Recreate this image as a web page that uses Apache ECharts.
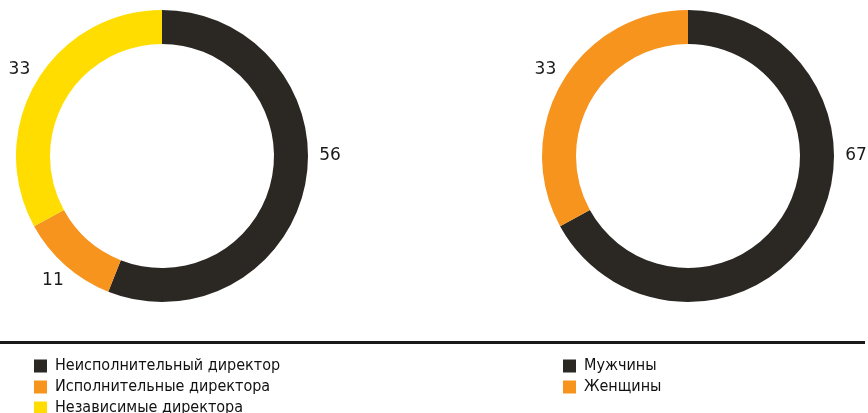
<!DOCTYPE html>
<html>
<head>
<meta charset="utf-8">
<script src="https://cdn.jsdelivr.net/npm/echarts@6/dist/echarts.min.js"></script>
<style>
  html, body { margin: 0; padding: 0; background: #fff; }
  #chart { width: 868px; height: 413px; }
</style>
</head>
<body>
<div id="chart"></div>
<script>
  // состав совета директоров
  const boardNames = ['Неисполнительный директор', 'Исполнительные директора', 'Независимые директора']
  const boardValues = [56, 11, 33]
  // гендерный состав
  const genderNames = ['Мужчины', 'Женщины']
  const genderValues = [67, 33]

  const dark = '#2b2723'
  const orange = '#f7941e'
  const yellow = '#ffdd00'

  const chart = echarts.init(document.getElementById('chart'))

  // метки по центру на конце (невидимой) выноски; самый большой сектор — справа по центру
  const labelLayout = (params) => {
    if (params.dataIndex === 0) {
      return {
        x: params.rect.x + params.rect.width + 22,
        y: params.rect.y + params.rect.height / 2,
        align: 'center',
        verticalAlign: 'middle'
      }
    }
    const pts = params.labelLinePoints
    if (!pts) return {}
    return { x: pts[1][0] + 2, y: pts[1][1] - 1, align: 'center', verticalAlign: 'middle' }
  }

  const pieBase = {
    type: 'pie',
    radius: [112, 146],
    startAngle: 90,
    clockwise: true,
    avoidLabelOverlap: false,
    silent: true,
    label: {
      show: true,
      position: 'outside',
      formatter: '{c}',
      color: '#1a1a1a',
      fontSize: 17,
      fontFamily: 'DejaVu Sans'
    },
    labelLine: { show: true, length: 22, length2: 0, lineStyle: { opacity: 0, width: 0 } },
    labelLayout: labelLayout,
    emphasis: { disabled: true }
  }

  const legendBase = {
    orient: 'vertical',
    top: 358,
    height: 120,
    padding: 0,
    itemWidth: 13,
    itemHeight: 13,
    itemGap: 5,
    icon: 'rect',
    selectedMode: false,
    textStyle: { fontSize: 16, lineHeight: 13, color: '#111', fontFamily: 'DejaVu Sans Condensed', padding: [0, 0, 0, 3] }
  }

  chart.setOption({
    animation: false,
    legend: [
      Object.assign({}, legendBase, { left: 34, data: boardNames }),
      Object.assign({}, legendBase, { left: 563, data: genderNames })
    ],
    graphic: [{
      type: 'rect',
      left: 0,
      top: 341,
      shape: { width: 865, height: 3 },
      style: { fill: '#1a1a1a' },
      silent: true
    }],
    series: [
      Object.assign({}, pieBase, {
        center: [162, 156],
        data: boardNames.map((n, i) => ({ name: n, value: boardValues[i] })),
        color: [dark, orange, yellow]
      }),
      Object.assign({}, pieBase, {
        center: [688, 156],
        data: genderNames.map((n, i) => ({ name: n, value: genderValues[i] })),
        color: [dark, orange]
      })
    ]
  })
</script>
</body>
</html>
